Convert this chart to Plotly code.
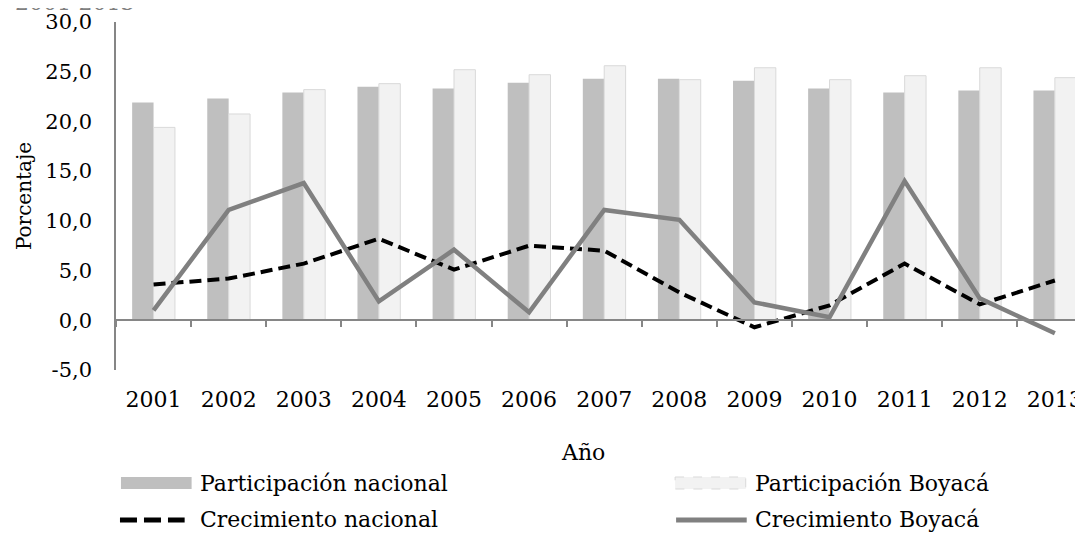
import plotly.graph_objects as go

years = ["2001", "2002", "2003", "2004", "2005", "2006", "2007",
         "2008", "2009", "2010", "2011", "2012", "2013"]
part_nacional = [21.9, 22.3, 22.9, 23.5, 23.3, 23.9, 24.3, 24.3, 24.1, 23.3, 22.9, 23.1, 23.1]
part_boyaca = [19.4, 20.75, 23.2, 23.8, 25.2, 24.7, 25.6, 24.2, 25.4, 24.2, 24.6, 25.4, 24.4]
crec_nacional = [3.6, 4.2, 5.7, 8.2, 5.1, 7.5, 7.0, 2.8, -0.7, 1.5, 5.7, 1.6, 4.0]
crec_boyaca = [1.0, 11.1, 13.8, 1.9, 7.1, 0.8, 11.1, 10.1, 1.8, 0.3, 14.0, 2.2, -1.3]
y_tickvals = [-5, 0, 5, 10, 15, 20, 25, 30]
y_ticktext = ["-5,0", "0,0", "5,0", "10,0", "15,0", "20,0", "25,0", "30,0"]

# the page body has an 8px margin: size the figure to the visible area
OFF = 8
W, H = 1083 - OFF, 533 - OFF
ML, MT, MB = 116 - OFF, 22 - OFF, 163
PW = W - ML
PH = H - MT - MB
FONT = "DejaVu Serif"
FS = 22

def px(x):
    # x given in screenshot pixels
    return (x - OFF - ML) / PW

def py(y):
    # y given in screenshot pixels
    return (H - MB - (y - OFF)) / PH

fig = go.Figure()
fig.add_trace(go.Bar(x=years, y=part_nacional, name="Participación nacional",
                     marker=dict(color="#bfbfbf", line=dict(width=0))))
fig.add_trace(go.Bar(x=years, y=part_boyaca, name="Participación Boyacá",
                     marker=dict(color="#f2f2f2", line=dict(color="#d9d9d9", width=1))))
fig.add_trace(go.Scatter(x=years, y=crec_nacional, mode="lines", name="Crecimiento nacional",
                         line=dict(color="#000000", width=4, dash="12px,6px")))
fig.add_trace(go.Scatter(x=years, y=crec_boyaca, mode="lines", name="Crecimiento Boyacá",
                         line=dict(color="#808080", width=4.5)))

ymin, ymax = -5, 30
visible_cats = PW / 75.5

fig.update_layout(
    width=W, height=H,
    margin=dict(l=ML, r=0, t=MT, b=MB, pad=0),
    paper_bgcolor="white", plot_bgcolor="white",
    showlegend=False,
    barmode="group", bargap=0.43, bargroupgap=0,
    font=dict(family=FONT, size=FS, color="#000000"),
    xaxis=dict(
        type="category", range=[-0.5, -0.5 + visible_cats],
        anchor="free", position=(0 - ymin) / (ymax - ymin),
        showline=True, linecolor="#868686", linewidth=1.5,
        ticks="outside", tickson="boundaries", ticklen=6, tickcolor="#868686", tickwidth=1.5,
        showgrid=False, zeroline=False,
        tickfont=dict(family=FONT, size=FS, color="#000000"),
        ticklabelstandoff=60,
    ),
    yaxis=dict(
        range=[ymin, ymax], tickvals=y_tickvals, ticktext=y_ticktext,
        showline=True, linecolor="#868686", linewidth=1.5,
        ticks="outside", ticklen=18, tickcolor="rgba(0,0,0,0)",
        showgrid=False, zeroline=False,
        tickfont=dict(family=FONT, size=21, color="#000000"),
        title=dict(text="Porcentaje", font=dict(family=FONT, size=20, color="#000000"), standoff=8),
    ),
)

shapes = []
annotations = []

# cut-off title remnant at top
annotations.append(dict(xref="paper", yref="paper", x=px(136), y=py(17), xanchor="right",
                        yanchor="bottom", text="2001-2013", showarrow=False,
                        font=dict(family=FONT, size=FS, color="#7f7f7f")))
# x-axis title
annotations.append(dict(xref="paper", yref="paper", x=px(585), y=py(452), xanchor="center",
                        yanchor="middle", text="Año", showarrow=False,
                        font=dict(family=FONT, size=FS, color="#000000")))

# manual legend
shapes.append(dict(type="rect", xref="paper", yref="paper", x0=px(121), x1=px(192),
                   y0=py(477), y1=py(489), fillcolor="#bfbfbf", line=dict(width=0)))
shapes.append(dict(type="rect", xref="paper", yref="paper", x0=px(678), x1=px(749),
                   y0=py(477), y1=py(489), fillcolor="#f2f2f2",
                   line=dict(color="#d9d9d9", width=1, dash="dash")))
shapes.append(dict(type="line", xref="paper", yref="paper", x0=px(120), x1=px(185),
                   y0=py(520), y1=py(520), line=dict(color="#000000", width=5, dash="17px,7px")))
shapes.append(dict(type="line", xref="paper", yref="paper", x0=px(679), x1=px(750),
                   y0=py(520), y1=py(520), line=dict(color="#808080", width=5)))

legend_texts = [("Participación nacional", 198, 483), ("Participación Boyacá", 756, 483),
                ("Crecimiento nacional", 198, 519), ("Crecimiento Boyacá", 756, 519)]
for t, x, y in legend_texts:
    annotations.append(dict(xref="paper", yref="paper", x=px(x), y=py(y), xanchor="left",
                            yanchor="middle", text=t, showarrow=False,
                            font=dict(family=FONT, size=FS, color="#000000")))

fig.update_layout(shapes=shapes, annotations=annotations)
fig.write_html("out.html")
